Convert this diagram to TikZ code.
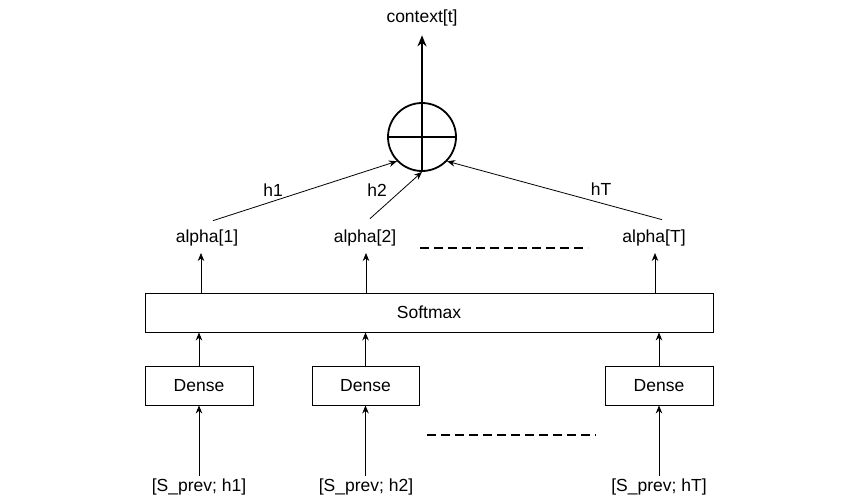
\documentclass[tikz,border=0pt]{standalone}
\usepackage{fontspec}
\setmainfont{Liberation Sans}
\usetikzlibrary{arrows.meta}
\begin{document}
\begin{tikzpicture}[x=1pt,y=-1pt,
  font=\fontsize{17.5}{20}\selectfont,
  box/.style={draw, line width=0.9pt, inner sep=0},
  arr/.style={-{Stealth[length=8pt,width=6.5pt]}, line width=0.8pt},
  lbl/.style={inner sep=0},
  dsh/.style={line width=2.4pt, dash pattern=on 9pt off 5pt}]
\useasboundingbox (0,0) rectangle (862,503);
% sum circle
\node[circle, draw, line width=1.8pt, minimum size=68pt, inner sep=0] (sum) at (422,137) {};
\draw[line width=1.8pt] (sum.west) -- (sum.east);
\node[lbl] (ctx) at (422,18) {context[t]};
\draw[line width=1.8pt, -{Stealth[length=11pt,width=9pt]}, shorten >=9pt] (sum.south) -- (ctx.south);
% softmax
\node[box, minimum width=568pt, minimum height=39pt] (sm) at (429,312.5) {Softmax};
% dense boxes
\node[box, minimum width=108pt, minimum height=39pt] (d1) at (199,385.5) {Dense};
\node[box, minimum width=107pt, minimum height=39pt] (d2) at (365.5,385.5) {Dense};
\node[box, minimum width=108pt, minimum height=39pt] (d3) at (659,385.5) {Dense};
% inputs
\node[lbl, inner sep=3pt] (i1) at (199,487) {[S\_prev; h1]};
\node[lbl, inner sep=3pt] (i2) at (366,487) {[S\_prev; h2]};
\node[lbl, inner sep=3pt] (i3) at (659,487) {[S\_prev; hT]};
% alphas
\node[lbl] (a1) at (207,238) {alpha[1]};
\node[lbl] (a2) at (365,238) {alpha[2]};
\node[lbl] (a3) at (654,238) {alpha[T]};
% h labels
\node[lbl] (h1) at (273,190) {h1};
\node[lbl] (h2) at (377,190) {h2};
\node[lbl] (hT) at (601,189) {hT};
% arrows
\foreach \d/\i in {d1/i1, d2/i2, d3/i3} {
  \draw[arr] (\i.north -| \d) -- (\d.south);
  \draw[arr] (\d.north) -- (sm.south -| \d);
}
\draw[arr] (sm.north -| 201,0) -- (201,253);
\draw[arr] (sm.north -| 366,0) -- (366,253);
\draw[arr] (sm.north -| 655,0) -- (655,253);
\draw[arr] ([xshift=6pt,yshift=9pt]a1.north) -- (sum.224);
\draw[arr] ([xshift=5pt,yshift=11pt]a2.north) -- (sum.270);
\draw[arr] ([xshift=8pt,yshift=10pt]a3.north) -- (sum.316);
% dashed ellipses
\coordinate (t1) at (420,248); \coordinate (t2) at (588,248);
\coordinate (b1) at (427,435); \coordinate (b2) at (596,435);
\draw[dsh] (t1) -- (t2);
\draw[dsh] (b1) -- (b2);
\end{tikzpicture}
\end{document}
